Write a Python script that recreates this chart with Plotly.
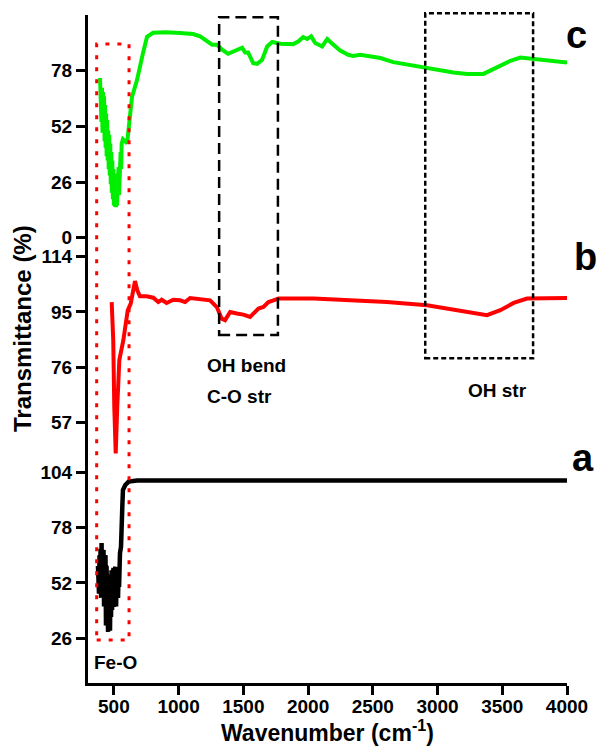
import plotly.graph_objects as go

# ---------------- data ----------------
# (c) green
c_wn = [393, 396, 400, 404, 408, 412, 416, 420, 424, 428, 432, 436, 440, 444, 448, 452, 456, 460,
        464, 468, 472, 476, 480, 484, 488, 492, 496, 500, 504, 508, 512, 516, 520, 524, 528, 532,
        536, 540, 544, 548, 552, 556, 560, 570, 602, 640, 679, 725, 756, 803, 900, 1011, 1112,
        1166, 1189, 1259, 1297, 1336, 1382, 1460, 1491, 1514, 1537, 1576, 1607, 1645, 1684, 1723,
        1785, 1885, 1924, 1962, 1993, 2024, 2055, 2109, 2148, 2187, 2248, 2310, 2349, 2403, 2558,
        2658, 2813, 2968, 3122, 3230, 3354, 3431, 3563, 3640, 3741, 3849, 4000]
c_T = [74.6, 58, 73, 54, 70, 49, 68, 50, 66, 45, 62, 42, 58, 38, 55, 36, 50, 32,
       48, 29, 44, 25, 40, 21, 36, 18, 32, 15, 30, 14.5, 28, 14.2, 25, 15, 30, 16,
       33, 20, 35, 26, 40, 32, 44, 46, 44.1, 65.7, 73.7, 86.3, 93.8, 95.7, 96.0, 95.6, 95.1,
       94.0, 92.9, 90.1, 90.1, 87.8, 85.9, 87.8, 88.7, 86.5, 86.5, 81.5, 81.2, 83.1, 89.3, 91.4,
       90.6, 90.4, 91.6, 93.7, 92.8, 94.0, 90.9, 89.3, 92.8, 90.6, 87.4, 85.4, 84.9, 85.4, 83.9,
       82.0, 80.4, 78.7, 77.1, 76.5, 76.5, 78.7, 82.6, 84.1, 83.4, 82.6, 81.8]

# (b) red
b_wn = [483, 495, 503, 514, 526, 542, 573, 607, 630, 645, 663, 681, 701, 753, 804, 843, 869,
        907, 959, 1011, 1050, 1089, 1166, 1243, 1295, 1333, 1359, 1398, 1449, 1500, 1552, 1578,
        1617, 1655, 1694, 1733, 1771, 2042, 2351, 2609, 2918, 3124, 3279, 3382, 3485, 3588,
        3691, 4000]
b_T = [98.4, 85.3, 62.5, 46.5, 62.5, 78.5, 85.3, 95.6, 97.9, 102.4, 105.6, 102.4, 100.4, 100.4,
       99.9, 98.4, 99.2, 98.1, 99.2, 99.0, 98.4, 99.8, 99.5, 99.0, 96.7, 92.7, 92.2, 95.0, 94.5,
       94.1, 93.3, 94.5, 96.2, 96.7, 98.4, 99.0, 99.6, 99.6, 99.0, 98.4, 97.3, 95.8, 94.5, 93.9,
       95.6, 98.1, 99.6, 99.8]

# (a) black
a_wn = [377, 385, 389, 393, 397, 401, 405, 408, 412, 416, 420, 424, 428, 431, 435, 439, 443,
        447, 451, 455, 459, 462, 466, 470, 474, 478, 482, 486, 490, 493, 497, 501, 505, 509,
        513, 517, 521, 524, 528, 532, 536, 540, 547, 555, 565, 570, 588, 614, 679, 4000]
a_T = [60, 47, 65, 49, 68, 45, 70.8, 48, 66, 42, 67.5, 41, 64, 45, 65, 32, 60,
       30, 53, 29, 50, 33, 53, 29.5, 56, 36, 58, 39.3, 55, 42, 59, 40.7, 58, 42,
       59.5, 41, 56, 45.4, 56.7, 45, 55, 50, 66, 69, 87.8, 95.7, 98, 99.6, 100.1, 100.1]

x_ticks = [500, 1000, 1500, 2000, 2500, 3000, 3500, 4000]
c_ticks = [0, 26, 52, 78]
b_ticks = [57, 76, 95, 114]
a_ticks = [26, 52, 78, 104]

FONT = "Liberation Sans, Arial, sans-serif"

fig = go.Figure()
fig.add_trace(go.Scatter(x=a_wn, y=a_T, mode="lines", line=dict(color="black", width=4.5),
                         yaxis="y", showlegend=False))
fig.add_trace(go.Scatter(x=b_wn, y=b_T, mode="lines", line=dict(color="#ff0000", width=4),
                         yaxis="y2", showlegend=False))
fig.add_trace(go.Scatter(x=c_wn, y=c_T, mode="lines", line=dict(color="#00ee00", width=4),
                         yaxis="y3", showlegend=False))

tickfont = dict(family=FONT, size=19, color="black", weight="bold")
yax = dict(showline=True, linewidth=3, linecolor="black", ticks="outside", ticklen=9,
           tickwidth=3, tickcolor="black", showgrid=False, zeroline=False, tickfont=tickfont,
           anchor="x")

fig.update_layout(
    width=599, height=748,
    margin=dict(l=88, r=32, t=15, b=65),
    paper_bgcolor="white", plot_bgcolor="white",
    xaxis=dict(range=[300, 4000], tickvals=x_ticks, showline=True, linewidth=3,
               linecolor="black", ticks="outside", ticklen=9, tickwidth=3, tickcolor="black",
               showgrid=False, zeroline=False, tickfont=tickfont, ticklabelstandoff=-5),
    yaxis=dict(domain=[0, 1/3], range=[5, 109.6], tickvals=a_ticks, **yax),
    yaxis2=dict(domain=[1/3, 2/3], range=[44.1, 120.5], tickvals=b_ticks, **yax),
    yaxis3=dict(domain=[2/3, 1], range=[0, 104], tickvals=c_ticks, **yax),
)

# boxes
fig.add_shape(type="rect", xref="x", yref="paper", x0=367, x1=617, y0=0.0644, y1=0.9566,
              line=dict(color="#ff0000", width=3, dash="4px,8px"))
fig.add_shape(type="rect", xref="x", yref="paper", x0=1313, x1=1767, y0=0.521, y1=0.9966,
              line=dict(color="black", width=2.5, dash="11px,6px"))
fig.add_shape(type="rect", xref="x", yref="paper", x0=2905, x1=3738, y0=0.486, y1=1.0025,
              line=dict(color="black", width=2.5, dash="5px,3px"))

ann_font = dict(family=FONT, size=19, color="black", weight="bold")
def ann(text, x, y, xref="x", xanchor="center", yanchor="middle", size=None, angle=0):
    f = dict(ann_font)
    if size:
        f["size"] = size
    fig.add_annotation(text=text, x=x, y=y, xref=xref, yref="paper", showarrow=False,
                       xanchor=xanchor, yanchor=yanchor, font=f, textangle=angle,
                       borderpad=0)

ann("OH bend", 1210, 0.476, xanchor="left")
ann("C-O str", 1210, 0.4286, xanchor="left")
ann("OH str", 3460, 0.4386)
ann("Fe-O", 509, 0.0314)
ann("c", 1.0188, 0.9708, xref="paper", size=38)
ann("b", 1.0376, 0.6377, xref="paper", size=38)
ann("a", 1.0344, 0.3368, xref="paper", size=38)
ann("Transmittance (%)", -0.1378, 0.5314, xref="paper", size=24, angle=-90)
ann("Wavenumber (cm<sup>-1</sup>)", 0.5, -0.0958, xref="paper", yanchor="bottom", size=23)

fig.write_html("out.html")
